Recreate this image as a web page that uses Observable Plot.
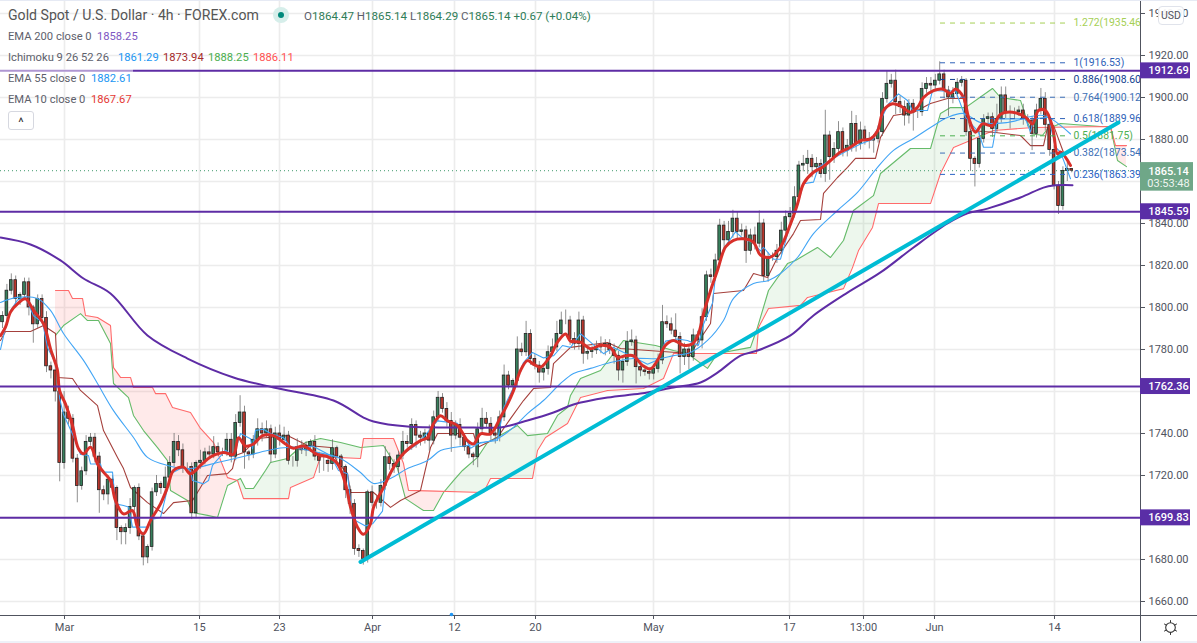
<!DOCTYPE html>
<html>
<head>
<meta charset="utf-8">
<script src="https://cdn.jsdelivr.net/npm/d3@7"></script>
<script src="https://cdn.jsdelivr.net/npm/@observablehq/plot@0.6"></script>
<style>
html,body{margin:0;padding:0;background:#fff;overflow:hidden}
#wrap{position:relative;width:1197px;height:643px;font-family:Roboto,"Liberation Sans",sans-serif}
#wrap svg{display:block;position:absolute;left:0;top:0}
.row{position:absolute;left:8px;font-size:11.2px;line-height:14px;color:#5d606b;white-space:nowrap}
.row span{position:absolute;top:0}
</style>
</head>
<body>
<div id="wrap">
<div id="chart"></div>
<div style="position:absolute;left:0;top:69px;width:133px;height:3px;background:rgba(255,255,255,.5)"></div>
<div class="row" style="top:7px;font-size:14.1px;line-height:16px;color:#555">Gold Spot / U.S. Dollar · 4h · FOREX.com</div>
<div style="position:absolute;left:273px;top:7px;width:16px;height:16px;border-radius:50%;background:#d6eeea"></div>
<div style="position:absolute;left:278px;top:12px;width:6px;height:6px;border-radius:50%;background:#00897b"></div>
<div class="row" style="left:304px;top:9px;color:#2f7d58;font-size:11.55px"><b style="font-weight:400;color:#5d606b">O</b>1864.47 <b style="font-weight:400;color:#5d606b">H</b>1865.14 <b style="font-weight:400;color:#5d606b">L</b>1864.29 <b style="font-weight:400;color:#5d606b">C</b>1865.14 +0.67 (+0.04%)</div>
<div class="row" style="top:30px">EMA 200 close 0<span style="left:89px;color:#7e57c2">1858.25</span></div>
<div class="row" style="top:51px">Ichimoku 9 26 52 26<span style="left:110px;color:#2196f3">1861.29</span><span style="left:155px;color:#a52a2a">1873.94</span><span style="left:200px;color:#4caf50">1888.25</span><span style="left:245px;color:#ff5252">1886.11</span></div>
<div class="row" style="top:72px">EMA 55 close 0<span style="left:83px;color:#2196f3">1882.61</span></div>
<div class="row" style="top:93px">EMA 10 close 0<span style="left:83px;color:#e53935">1867.67</span></div>
<div style="position:absolute;left:8px;top:111px;width:24px;height:17px;border:1px solid #d6d8e0;border-radius:3px;background:#fff;color:#333;font-size:13px;line-height:21px;text-align:center">^</div>
<div style="position:absolute;left:1158px;top:6px;width:24px;height:17px;border:1px solid #e0e3eb;border-radius:4px;background:rgba(255,255,255,.92);color:#50535e;font-size:10.5px;line-height:17px;text-align:center">USD</div>
<div style="position:absolute;left:0;top:0;width:1197px;height:1px;background:#e6eaf4"></div>
<div style="position:absolute;left:0;top:641px;width:1197px;height:2px;background:#eef1f8"></div>
</div>
<script>
// ---- candles (4h, resampled) ----
const closes=[
1796,1808,1813,1804,1806,1812,1800,1792,1804,1795,
1772,1770,1760,1726,1750,1747,1728,1715,1722,1736,
1738,1729,1713,1711,1718,1714,1695,1693,1695,1705,
1714,1691,1681,1686,1712,1716,1714,1719,1726,1736,
1732,1724,1724,1702,1726,1727,1731,1730,1733.5,1731,
1731,1737,1729,1745,1750,1731,1730,1737,1742,1740,
1742,1730,1740,1737,1739,1727,1727,1733.5,1732,1734,
1736,1729,1727,1727,1725.5,1733,1729,1724,1713,1706.5,
1685,1684,1680.3,1712,1707,1707,1715,1728.7,1725.5,1724,
1729.5,1736,1735,1744,1739,1738,1740,1736.6,1747.7,1757,
1751.7,1746,1739,1744,1738,1733.5,1730,1728.7,1742,1747,
1744.6,1740,1739,1747.7,1767.6,1762.8,1765,1780,1778.7,1787.4,
1775.5,1772.3,1769,1770.8,1778.7,1781,1787.4,1793.8,1793.8,1785,
1782.7,1793.8,1778,1778.8,1779.6,1781,1782,1782.7,1779.6,1777,
1770,1774,1783.5,1784.3,1771.6,1770,1769.3,1768.5,1770.8,1774.8,
1793,1792,1789,1786,1776.4,1780,1776.4,1786.7,1784.3,1795.4,
1815.3,1814.5,1822.4,1839,1832,1836,1842.3,1836,1836.7,1827,
1834.3,1830.4,1840,1815,1824,1824,1827,1836.6,1843,1844.6,
1852.5,1867.6,1868.4,1870.8,1866.8,1868.4,1863.6,1881.9,1871.6,1875.5,
1883.5,1874.7,1877,1887.4,1878,1884.3,1880.3,1879.5,1880.3,1883.5,
1899.3,1906.5,1908,1897.8,1895.4,1891.4,1897,1893,1893,1904,
1906.5,1905.7,1908,1911,1903.3,1900,1901.7,1907,1908,1883.5,
1870.8,1868.4,1880.3,1889.8,1890.6,1885,1889.8,1901,1893,1893,
1893,1893.8,1889.8,1889,1882.7,1893.8,1899.3,1887,1875,1858,
1848.3,1865,1866,1865.14];
const wickUp=[
2,3,3,2,1,2,2,1,2,2,
3,2,2,2,10,3,2,2,2,3,
2,2,2,2,2,2,1,1,2,4,
1,2,2,1,2,4,1,5,3,4,
3,3,2,2,1,5,2,3,5,2,
2,3,3,4,8,3,1,2,5,3,
4,2,3,4,4,2,2,4,3,2,
1,3,2,2,3,4,1,1,1,2,
2,2,1,1,3,3,3,5,2,2,
2,5,3,3,2,2,2,4,3,3,
2,3,4,2,3,1,2,1,3,5,
3,3,2,3,5,2,1,6,3,6,
2,2,2,2,3,4,6,4,5,2,
3,4,2,2,2,3,4,2,2,3,
2,3,5,5,2,2,2,2,2,3,
8,3,3,8,2,3,2,3,2,4,
2,3,3,3,2,5,4,3,3,2,
3,4,6,2,2,2,3,4,3,3,
5,2,4,4,2,3,2,12,2,3,
5,2,3,6,4,4,2,3,2,3,
3,6,3,5,3,3,2,2,2,3,
3,3,3,6,2,2,3,2,2,1,
1,1,3,2,2,2,7,4,4,3,
2,2,3,2,2,3,5,3,2,2,
2,2,3,0];
const wickDown=[
3,3,2,4,3,2,4,9,2,3,
3,4,5,9,3,3,2,8,2,2,
2,3,11,3,5,2,6,6,6,3,
2,2,4,3,2,2,3,2,3,2,
3,3,3,3,2,3,2,2,2,2,
2,2,3,2,2,8,3,2,3,4,
2,4,2,3,2,2,3,3,2,3,
3,2,6,5,4,3,2,2,4,5,
3,3,3,2,2,3,2,2,3,3,
3,2,2,3,6,4,3,5,2,2,
2,3,8,2,4,2,2,4,5,2,
2,4,4,3,2,2,2,3,2,2,
3,2,5,4,3,2,2,2,2,3,
3,3,5,3,3,2,3,5,2,4,
5,6,2,2,8,3,2,3,3,2,
2,2,2,3,8,4,6,2,3,4,
2,3,2,2,4,2,3,4,2,6,
2,3,2,3,3,2,3,2,2,3,
2,2,3,5,5,3,2,4,11,3,
2,3,3,3,4,3,3,4,6,2,
2,2,2,6,3,5,4,9,3,2,
2,3,2,2,4,9,3,2,2,2,
6,11,2,2,3,4,2,2,3,8,
3,2,3,3,8,2,2,3,3,2,
4,2,5,1];
const barStart=2, barStep=4.4, barHalf=1.35;

// ---- indicators: [time-axis position, price] ----
const ema200=[[0,1833.3],[30,1830],[60,1822.4],[83,1813.8],[110,1806.7],[147,1786.7],[187,1775.7],[233,1766.7],[273,1761.9],[333,1755.7],[363,1747.6],[373,1745.7],[407,1743.3],[473,1742.9],[500,1742.9],[527,1746.2],[553,1750],[573,1753.8],[607,1757.1],[640,1759],[673,1761.9],[700,1764.3],[717,1769],[740,1777.1],[757,1779.5],[790,1786.7],[813,1796.2],[847,1807.1],[880,1816.7],[913,1828.6],[947,1840],[967,1844.8],[987,1847.1],[1020,1852.4],[1043,1857.1],[1053,1858.1],[1072,1858.25]];
const ema55=[[0,1802.4],[17,1804.8],[37,1804.3],[50,1798.6],[63,1787.6],[83,1774.8],[97,1763.8],[113,1750.9],[133,1738.1],[147,1728.6],[167,1724.8],[190,1723.3],[217,1726.2],[247,1729.5],[267,1731.9],[287,1733.3],[317,1731],[340,1728.1],[360,1721.4],[373,1716.2],[390,1718.6],[407,1723.3],[427,1727.1],[440,1731.9],[453,1733.3],[473,1734.8],[497,1737.6],[513,1742.9],[527,1749.5],[543,1755.7],[560,1763.8],[573,1768.6],[590,1771],[610,1773.8],[633,1775.7],[660,1775.7],[673,1777.1],[690,1778.6],[707,1784.3],[723,1793.8],[733,1804.3],[753,1811.4],[768,1812.9],[780,1816.2],[797,1823.8],[813,1835.2],[837,1846.2],[857,1854.8],[877,1866.7],[893,1874.8],[913,1880.5],[930,1885.7],[947,1890.5],[963,1892.4],[980,1888.1],[1007,1888.1],[1043,1891.4],[1070,1882.61]];
const ema10=[[0,1786.6],[5,1790.6],[10,1797.8],[17,1801.7],[25,1804.1],[33,1798.6],[43,1792.2],[50,1780.3],[57,1770],[59,1760.5],[65,1754],[72,1743.8],[78,1732.7],[83,1730.3],[90,1733.5],[97,1725.5],[103,1721.6],[110,1717.6],[115,1708],[123,1701.7],[132,1703.3],[137,1695.4],[143,1692.2],[150,1698.6],[160,1706.5],[167,1714.4],[173,1722.4],[183,1724],[190,1720.8],[200,1724.8],[210,1728.8],[223,1731],[233,1730],[238,1738],[245,1734],[253,1735],[262,1739],[273,1739],[285,1735],[293,1733],[303,1734],[317,1730],[327,1729],[337,1725.6],[345,1716],[350,1705],[357,1695.4],[363,1692],[370,1697],[373,1704.8],[383,1714.3],[393,1723.8],[403,1730.5],[420,1736.6],[427,1738],[433,1744.6],[440,1748.5],[447,1746],[457,1743.8],[467,1736.6],[473,1735],[480,1739.8],[490,1739.8],[500,1747.7],[507,1754],[513,1760.4],[520,1770],[527,1774.7],[533,1773],[540,1771.6],[550,1777],[557,1783.5],[565,1787.4],[570,1784],[580,1783.5],[590,1780.4],[600,1782],[610,1781],[617,1776.4],[625,1777],[633,1777],[642,1772.4],[650,1770.8],[657,1774.8],[665,1782],[673,1784.3],[683,1782],[692,1782.7],[698,1787.5],[703,1797],[710,1808],[717,1817.7],[725,1828.8],[733,1832],[743,1832.7],[753,1831],[760,1825],[770,1824],[780,1828.7],[790,1839.8],[797,1849.3],[803,1858.9],[813,1864.4],[822,1866.8],[830,1870],[840,1874],[850,1876.3],[860,1879.5],[870,1880.3],[877,1884],[883,1893.8],[892,1897],[900,1896],[910,1893],[917,1895.4],[923,1900],[933,1903.3],[942,1904],[950,1902],[955,1904],[963,1900],[968,1890.6],[975,1883.5],[982,1887.4],[992,1886.6],[1000,1892],[1012,1893],[1025,1890.6],[1032,1887.4],[1038,1893.8],[1045,1893.8],[1052,1885.9],[1057,1873],[1060,1874],[1070,1867.67]];
const tenkan=[[0,1780],[5,1790.6],[10,1798.5],[17,1803.6],[25,1805],[33,1796],[42,1793],[47,1781],[57,1771.6],[59,1757],[63,1749],[72,1739.8],[80,1730],[88,1729.5],[90,1725.5],[100,1725.5],[102,1721.6],[112,1721.6],[115,1706.5],[123,1705.7],[128,1705],[132,1695.4],[147,1695.4],[150,1699],[160,1700],[165,1709.7],[170,1720.8],[183,1724],[190,1722.4],[192,1717.6],[203,1716],[208,1717.6],[212,1724.8],[225,1732],[233,1729],[240,1740],[250,1737.5],[252,1732.7],[255,1741.5],[263,1742],[270,1740],[283,1738],[290,1733.5],[303,1733.5],[312,1734],[330,1729.5],[338,1722.4],[347,1720.8],[350,1708],[353,1699],[365,1696],[372,1697],[382,1703],[385,1717.6],[403,1730.5],[417,1735],[437,1746],[457,1744.8],[470,1733],[480,1735.7],[497,1736.7],[503,1752],[513,1761.9],[523,1773.8],[532,1778.6],[543,1776],[553,1777],[562,1781.9],[570,1781],[580,1787.5],[590,1783.5],[603,1778],[613,1781],[630,1777],[647,1773],[657,1775],[665,1784],[677,1785],[687,1784.3],[698,1782],[703,1792],[712,1802],[715,1815],[723,1828],[735,1836],[743,1832.7],[752,1831],[760,1827],[763,1828.7],[773,1823],[780,1823],[788,1836.6],[795,1845.4],[803,1858.9],[813,1859.7],[818,1866.8],[832,1870.8],[847,1874.7],[860,1877.9],[873,1880.3],[880,1889],[888,1897],[898,1901.7],[907,1898.6],[912,1893.8],[927,1893.8],[932,1903.3],[947,1903],[955,1903.3],[965,1890.6],[978,1883.5],[983,1876.3],[992,1876.3],[997,1889.8],[1025,1889.8],[1030,1883.5],[1033,1889.8],[1048,1890.6],[1055,1876.3],[1060,1874],[1070,1861.29]];
const kijun=[[0,1784.3],[5,1788.6],[30,1788.6],[43,1791.4],[55,1787.6],[57,1766.7],[72,1766.2],[80,1760.5],[97,1753.3],[103,1741.4],[117,1728.6],[123,1723.3],[130,1714.3],[147,1707.1],[163,1701.9],[173,1707.1],[192,1708.1],[200,1714.3],[207,1720],[227,1720.9],[232,1723.3],[235,1729.5],[243,1731],[257,1737.6],[287,1739],[297,1736.7],[307,1734.3],[330,1733.3],[337,1726.2],[347,1721],[350,1711.9],[373,1711.9],[390,1704.8],[400,1708.1],[420,1712.9],[430,1733.3],[437,1740],[473,1740],[477,1733.3],[497,1738.1],[510,1747.1],[523,1755.7],[533,1761.4],[550,1761.9],[553,1773.3],[570,1781],[607,1783.3],[620,1780.5],[690,1778.1],[710,1792.4],[713,1806.7],[743,1808.1],[753,1816.2],[767,1814.3],[777,1823.8],[793,1835.2],[800,1841.4],[820,1841.9],[823,1854.3],[837,1861.9],[847,1866.7],[855,1871],[875,1871],[880,1881],[893,1891.4],[913,1892.9],[930,1897.1],[947,1899.5],[963,1899.5],[970,1884.3],[995,1883.3],[1020,1881.9],[1030,1877.1],[1043,1877.1],[1047,1885.7],[1053,1886.7],[1063,1873.8],[1070,1873.94]];
const senkouA=[[55,1786.7],[63,1791.4],[80,1797.1],[87,1793.8],[98,1793.8],[110,1782.9],[113,1763.8],[128,1757.1],[133,1748.6],[143,1741.4],[157,1733.3],[167,1727.1],[170,1712.9],[187,1708.1],[192,1702.4],[207,1701],[217,1700],[227,1715.2],[240,1718.6],[245,1713.8],[253,1713.8],[265,1722.4],[270,1726.2],[287,1728.1],[305,1735.7],[320,1737.6],[340,1735.7],[360,1733.3],[383,1734.3],[397,1723.3],[405,1709],[423,1703.3],[433,1703.3],[443,1711.9],[453,1717.6],[462,1722.4],[477,1728.6],[487,1735.7],[517,1743.8],[527,1739],[547,1740],[557,1748.6],[567,1752.4],[570,1758.1],[580,1766.2],[600,1770],[623,1784.3],[655,1781.9],[673,1779.5],[687,1778.1],[707,1771],[717,1778.1],[750,1781],[757,1790.5],[768,1808.1],[787,1820.9],[795,1822.4],[817,1828.6],[830,1823.8],[843,1831.9],[853,1846.2],[873,1853.3],[880,1863.8],[910,1875.7],[930,1875.7],[940,1892.4],[950,1895.2],[965,1895.2],[992,1904.3],[1000,1900],[1020,1898.6],[1028,1887],[1033,1882.5],[1042,1882],[1047,1885],[1060,1887.6],[1100,1886.2],[1110,1886.2],[1117,1870],[1126,1867.1]];
const senkouB=[[55,1808.1],[68,1808.1],[72,1804.3],[82,1804.3],[85,1796.2],[97,1795.2],[110,1791.4],[113,1771.4],[120,1766.7],[130,1766.7],[133,1761.9],[152,1761.9],[155,1759],[165,1759],[172,1752.4],[190,1750],[200,1742.4],[213,1735.7],[227,1719],[237,1717.6],[243,1709],[288,1709],[290,1714.3],[313,1719],[320,1729],[360,1728.1],[363,1737.6],[393,1737.6],[403,1725.7],[408,1712.9],[483,1711.9],[490,1718.6],[532,1718.6],[537,1731.9],[545,1738.1],[567,1744.8],[580,1757.1],[607,1760.5],[643,1761.4],[663,1766.2],[673,1778.1],[756,1778.1],[758,1790.5],[768,1799.5],[800,1801],[807,1804.8],[843,1809],[852,1819],[858,1827.1],[872,1838.1],[878,1849.5],[930,1849.5],[940,1863.8],[953,1876.2],[965,1878.6],[993,1884.3],[1033,1885.7],[1110,1886.2],[1115,1877.1],[1126,1877.1]];

// ---- annotations ----
const levelPrices=[1912.69,1845.59,1762.36,1699.83];
const fibPrices=[1935.46,1916.53,1908.6,1900.12,1889.96,1881.75,1873.54,1863.39];
const fibLabels=["1.272(1935.46","1(1916.53)","0.886(1908.60","0.764(1900.12","0.618(1889.96","0.5(1881.75)","0.382(1873.54","0.236(1863.39"];
const fibColors=["#a5cf55","#2f62b8","#123f8f","#3c6fb6","#2f62b8","#4caf50","#3c6fb6","#2962c4"];
const trendline=[[360,1678.8],[1118,1888.1]];
const lastPrice=1865.14;
const priceTicks=[1940,1920,1900,1880,1840,1820,1800,1780,1740,1720,1680,1660];
const gridPrices=d3.range(1660,1941,20);
const timeTicks=[64,199,279,372,454,535,653,789,863,934,1054];
const timeLabels=["Mar","15","23","Apr","12","20","May","17","13:00","Jun","14"];

// ---- derived tables ----
const candles=closes.map((c,i)=>{
  const open=i?closes[i-1]:c-3;
  return {t:barStart+barStep*i,open,close:c,high:Math.max(open,c)+wickUp[i],low:Math.min(open,c)-wickDown[i]};
});
const interp=(s,t)=>{
  const k=d3.bisector(d=>d[0]).left(s,t);
  if(k<=0)return s[0][1]; if(k>=s.length)return s[s.length-1][1];
  const a=s[k-1],b=s[k]; return a[1]+(b[1]-a[1])*(t-a[0])/(b[0]-a[0]);
};
const cloudTimes=[...new Set([...senkouA,...senkouB].map(d=>d[0]))].sort((a,b)=>a-b);
const cloud=[];let run=0,prev=null,sign=0;
for(const t of cloudTimes){
  const p={t,a:interp(senkouA,t),b:interp(senkouB,t)};
  const s=Math.sign(p.a-p.b)||sign;
  if(prev&&sign&&s!==sign){
    const f=(prev.a-prev.b)/((prev.a-prev.b)-(p.a-p.b));
    const x={t:prev.t+(t-prev.t)*f}; x.a=interp(senkouA,x.t); x.b=x.a;
    cloud.push({...x,run,up:sign>0}); run++;
    cloud.push({...x,run,up:s>0});
  }
  cloud.push({...p,run,up:s>0}); prev=p; sign=s;
}
const line=(s,stroke,strokeWidth,extra={})=>Plot.line(s,{x:d=>d[0],y:d=>d[1],stroke,strokeWidth,...extra});

const axisColor="#50535e", purple="#5e2ca5", axisPrice=1653.33, labelPrice=1647.6;
const tags=levelPrices.map(p=>({p,label:p.toFixed(2)}));
const chart=Plot.plot({
  width:1197,height:643,margin:0,
  style:{background:"#fff",fontFamily:"Roboto, 'Liberation Sans', sans-serif",overflow:"hidden"},
  x:{domain:[0,1197],range:[0,1197],axis:null},
  y:{domain:[1640,1946.19],range:[643,0],axis:null},
  marks:[
    Plot.ruleY(gridPrices,{x1:0,x2:1140,stroke:"#ececec",strokeWidth:1.6}),
    Plot.ruleX(timeTicks,{y1:1946,y2:axisPrice,stroke:"#ececec",strokeWidth:1.6}),
    Plot.areaY(cloud.filter(d=>d.up),{x:"t",y1:"b",y2:"a",z:"run",fill:"#4caf50",fillOpacity:.1}),
    Plot.areaY(cloud.filter(d=>!d.up),{x:"t",y1:"b",y2:"a",z:"run",fill:"#ff5252",fillOpacity:.12}),
    line(senkouA,"#66bb6a",1.1),
    line(senkouB,"#ff6b6b",1.1),
    line(kijun,"#a5403c",1.1),
    Plot.ruleY([lastPrice],{x1:0,x2:1140,stroke:"#3f9a6c",strokeDasharray:"1,3",strokeWidth:1}),
    Plot.ruleX(candles,{x:"t",y1:"low",y2:"high",stroke:"#6a6a6a",strokeWidth:1,strokeOpacity:.75}),
    Plot.rect(candles,{x1:d=>d.t-barHalf,x2:d=>d.t+barHalf,y1:"open",y2:"close",fill:d=>d.close>=d.open?"#37805c":"#b8362c",stroke:"#222",strokeWidth:.8}),
    line(tenkan,"#42a5f5",1.1),
    line(ema55,"#42a5f5",1.1,{curve:"catmull-rom"}),
    line(ema200,purple,2,{curve:"catmull-rom"}),
    line(ema10,"#d8302a",3,{curve:"catmull-rom"}),
    Plot.ruleY(levelPrices,{x1:0,x2:1140,stroke:purple,strokeWidth:2}),
    Plot.ruleY(fibPrices.map((p,i)=>({p,c:fibColors[i]})),{y:"p",x1:940,x2:1070,stroke:"c",strokeDasharray:"5,5",strokeWidth:1}),
    Plot.text(fibPrices.map((p,i)=>({p,c:fibColors[i],s:fibLabels[i]})),{x:1073,y:"p",text:"s",fill:"c",textAnchor:"start",fontSize:10.4}),
    line(trendline,"#00bcd4",4),
    // axes
    Plot.ruleX([1140],{y1:1640,y2:1946.19,stroke:axisColor,strokeWidth:1}),
    Plot.ruleY([axisPrice],{x1:0,x2:1197,stroke:axisColor,strokeWidth:1}),
    Plot.ruleX(timeTicks,{y1:axisPrice,y2:axisPrice-1.9,stroke:axisColor}),
    Plot.ruleY(priceTicks,{x1:1140,x2:1145,stroke:axisColor}),
    Plot.text(priceTicks,{x:1168,y:d=>d,text:d=>d.toFixed(2),fill:axisColor,fontSize:11}),
    Plot.text(timeTicks.map((t,i)=>({t,s:timeLabels[i]})),{x:"t",y:labelPrice,text:"s",fill:axisColor,fontSize:11}),
    Plot.dot([[451,axisPrice+.5]],{x:d=>d[0],y:d=>d[1],r:1.8,fill:"#2196f3"}),
    // price tags
    Plot.rect(tags,{x1:1140,x2:1190,y1:d=>d.p-3.8,y2:d=>d.p+3.8,fill:"#5a2ea6"}),
    Plot.text(tags,{x:1168,y:"p",text:"label",fill:"#fff",fontSize:11,fontWeight:500}),
    Plot.rect([{y1:1855.4,y2:1869}],{x1:1140,x2:1193,y1:"y1",y2:"y2",fill:"#6fa788"}),
    Plot.text([{s:"1865.14",p:1864.6}],{x:1168,y:"p",text:"s",fill:"#fff",fontSize:11,fontWeight:500}),
    Plot.text([{s:"03:53:48",p:1858.9}],{x:1168,y:"p",text:"s",fill:"#eef5f0",fontSize:11}),
    // settings glyph
    Plot.dot([[1170,labelPrice]],{x:d=>d[0],y:d=>d[1],r:7,symbol:"asterisk",stroke:"#333",strokeWidth:1}),
    Plot.dot([[1170,labelPrice]],{x:d=>d[0],y:d=>d[1],r:4.8,fill:"#fff",stroke:"#333",strokeWidth:1.1})
  ]
});
document.getElementById("chart").appendChild(chart);
</script>
</body>
</html>
